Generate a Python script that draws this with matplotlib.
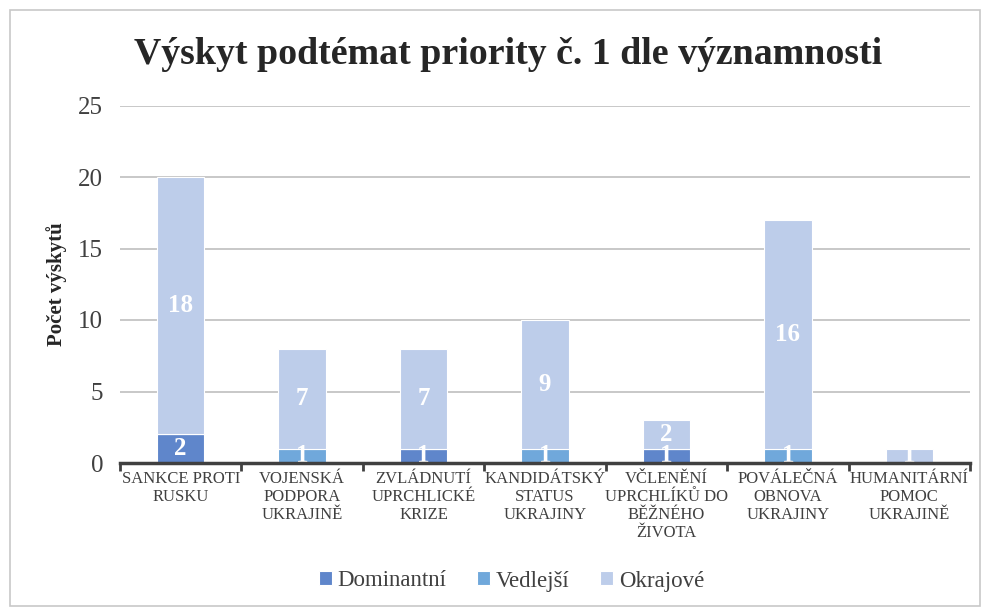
import matplotlib
matplotlib.use("Agg")
import matplotlib.pyplot as plt
from matplotlib.patches import Rectangle
import numpy as np

categories = ["SANKCE PROTI\nRUSKU", "VOJENSKÁ\nPODPORA\nUKRAJINĚ", "ZVLÁDNUTÍ\nUPRCHLICKÉ\nKRIZE",
              "KANDIDÁTSKÝ\nSTATUS\nUKRAJINY", "VČLENĚNÍ\nUPRCHLÍKŮ DO\nBĚŽNÉHO\nŽIVOTA",
              "POVÁLEČNÁ\nOBNOVA\nUKRAJINY", "HUMANITÁRNÍ\nPOMOC\nUKRAJINĚ"]
dominantni = [2, 0, 1, 0, 1, 0, 0]
vedlejsi = [0, 1, 0, 1, 0, 1, 0]
okrajove = [18, 7, 7, 9, 2, 16, 1]
series_names = ["Dominantní", "Vedlejší", "Okrajové"]
colors = ["#5F86CB", "#70A8DB", "#BDCDEA"]

serif = ["Liberation Serif", "DejaVu Serif"]
plt.rcParams['font.family'] = serif

fig = plt.figure(figsize=(9.82, 6.16), dpi=100)
fig.patches.append(Rectangle((10/982, 10/616), 970/982, 596/616, transform=fig.transFigure,
                             fill=False, edgecolor="#C8C8C8", linewidth=1.2))
ax = fig.add_axes([120/982, (616-463)/616, 850/982, (463-105.5)/616])

x = np.arange(len(categories))
w = 0.39
bottoms = np.zeros(len(categories))
for vals, name, c in zip([dominantni, vedlejsi, okrajove], series_names, colors):
    vals = np.array(vals, dtype=float)
    ax.bar(x, vals, w, bottom=bottoms, color=c, edgecolor="white", linewidth=0.8, label=name, zorder=3)
    for xi, v, b in zip(x, vals, bottoms):
        if v > 0:
            ax.text(xi, b + v/2, f"{int(v)}", ha="center", va="center", color="white",
                    fontsize=18, fontweight="bold", zorder=4)
    bottoms += vals

ax.set_xlim(-0.5, len(categories) - 0.5)
ax.set_ylim(0, 25)
ax.set_yticks(range(0, 26, 5))
ax.yaxis.grid(True, color="#BFBFBF", linewidth=1.2, zorder=0)
ax.set_axisbelow(True)
for s in ["top", "right", "left"]:
    ax.spines[s].set_visible(False)
ax.spines["bottom"].set_color("#404040")
ax.spines["bottom"].set_linewidth(2.5)
ax.spines["bottom"].set_zorder(5)
ax.tick_params(axis="y", length=0, labelsize=18, colors="#404040", pad=12)
ax.set_xticks(np.arange(-0.5, len(categories), 1.0))
ax.set_xticklabels([])
ax.tick_params(axis="x", which="major", length=6, width=2, color="#404040", direction="out")
ax.set_xticks(x, minor=True)
ax.set_xticklabels(categories, minor=True, fontsize=12, color="#404040", linespacing=1.15)
ax.tick_params(axis="x", which="minor", length=0, pad=6)

ax.set_ylabel("Počet výskytů", fontsize=15, fontweight="bold", color="#262626", labelpad=8)

fig.text(508/982, 1 - 55/616, "Výskyt podtémat priority č. 1 dle významnosti", ha="center", va="center",
         fontsize=27.3, fontweight="bold", color="#262626")

leg = fig.legend(loc="center", bbox_to_anchor=(0.521, 1 - 581/616), ncol=3, frameon=False,
                 fontsize=16.5, handlelength=0.55, handleheight=0.55, handletextpad=0.25, columnspacing=1.35,
                 labelcolor="#404040")

fig.savefig("out.png", dpi=100)
